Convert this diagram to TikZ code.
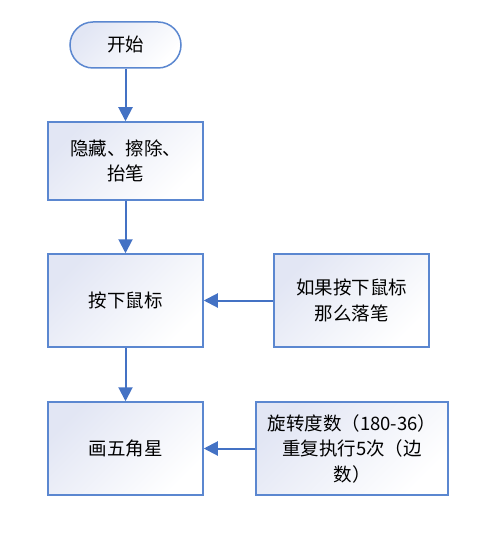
\documentclass[tikz,border=0pt]{standalone}
\usepackage{fontspec}
\setmainfont{Noto Sans CJK SC}
\usetikzlibrary{arrows.meta}
\definecolor{flowblue}{HTML}{4472C4}
\definecolor{boxline}{HTML}{5B87D0}
\definecolor{boxfill}{HTML}{E2E6F4}
\tikzset{
  box/.style={draw=boxline, line width=1.5pt, left color=boxfill, right color=white,
    shading angle=45, minimum width=155pt, minimum height=93pt, align=center,
    inner sep=0pt, font=\fontsize{18.5}{25.5}\selectfont},
  flow/.style={draw=flowblue, line width=2pt, -{Triangle[length=14pt,width=14pt]}}
}
\begin{document}
\begin{tikzpicture}[x=1pt,y=-1pt]
    \useasboundingbox (0,0) rectangle (497,534);
    \node[box, minimum width=111pt, minimum height=46pt, rounded corners=23pt] (start) at (125.5,45) {开始};
    \node[box, minimum height=78pt] (hide) at (125.5,161) {隐藏、擦除、\\抬笔};
    \node[box] (press) at (125.5,300.5) {按下鼠标};
    \node[box] (cond) at (351.5,300.5) {如果按下鼠标\\那么落笔};
    \node[box] (star) at (125.5,448.5) {画五角星};
    \node[box, minimum width=192pt] (rep) at (352,448.5) {旋转度数（180-36）\\重复执行5次（边\\数）};
    \draw[flow] (start) -- (hide);
    \draw[flow] (hide) -- (press);
    \draw[flow] (press) -- (star);
    \draw[flow] (cond) -- (press);
    \draw[flow] (rep) -- (star);
\end{tikzpicture}
\end{document}
